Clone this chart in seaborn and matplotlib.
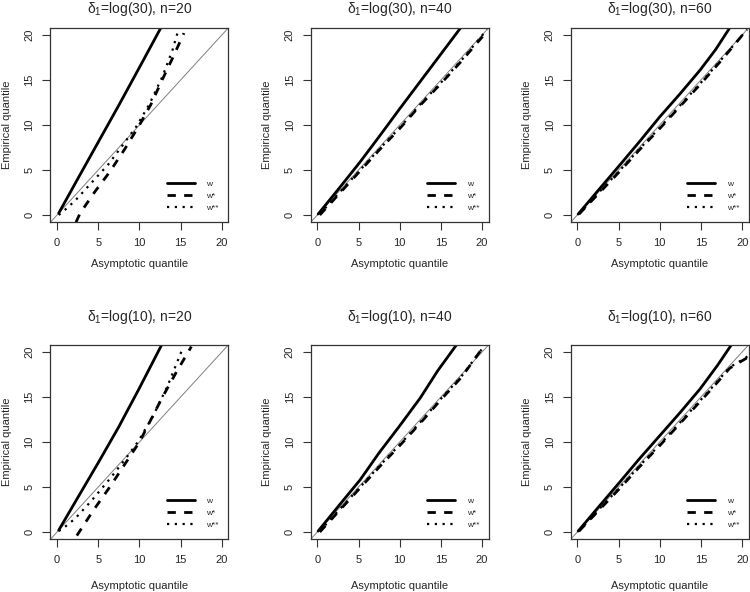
import numpy as np
import pandas as pd
import matplotlib
matplotlib.use('Agg')
import matplotlib.pyplot as plt
import seaborn as sns

# panel titles (delta_1, n)
deltas = ['30', '30', '30', '10', '10', '10']
ns = [20, 40, 60, 20, 40, 60]

# --- delta1=log(30), n=20
w_30_20_x = [0.2, 2.5, 5.0, 7.5, 10.0, 12.6]
w_30_20_y = [0.2, 4.0, 8.1, 12.2, 16.4, 20.8]
ws_30_20_x = [2.3, 2.8, 4.6, 6.4, 8.2, 10.0, 11.4, 12.7, 14.0, 15.4]
ws_30_20_y = [-0.8, 0.2, 2.6, 4.8, 7.3, 10.0, 12.3, 14.9, 17.4, 20.2]
wss_30_20_x = [0.2, 1.0, 2.2, 4.0, 6.2, 8.0, 9.6, 11.2, 12.8, 14.0, 14.8]
wss_30_20_y = [0.0, 0.6, 1.6, 3.4, 5.6, 7.8, 9.8, 12.3, 15.4, 18.3, 20.8]

# --- delta1=log(30), n=40
w_30_40_x = [0.1, 2.5, 5.2, 7.5, 10.0, 13.7, 17.4]
w_30_40_y = [0.1, 2.8, 5.9, 8.7, 11.8, 16.3, 20.8]
ws_30_40_x = [0.3, 2.5, 5.0, 7.5, 10.0, 12.5, 15.0, 17.5, 20.5]
ws_30_40_y = [0.0, 2.2, 4.7, 7.2, 9.6, 12.2, 14.6, 17.1, 20.3]
wss_30_40_x = [0.3, 2.5, 5.0, 7.5, 10.0, 12.5, 15.0, 17.5, 20.6]
wss_30_40_y = [0.1, 2.3, 4.8, 7.3, 9.7, 12.3, 14.7, 17.2, 20.6]

# --- delta1=log(30), n=60
w_30_60_x = [0.1, 2.5, 5.2, 7.5, 10.0, 12.5, 14.9, 16.8, 18.5]
w_30_60_y = [0.1, 2.7, 5.6, 8.1, 10.9, 13.5, 16.1, 18.4, 20.8]
ws_30_60_x = [0.2, 2.5, 5.0, 7.5, 10.0, 12.5, 15.0, 17.5, 20.5]
ws_30_60_y = [0.1, 2.3, 4.7, 7.2, 9.6, 12.1, 14.6, 17.2, 20.5]
wss_30_60_x = [0.2, 2.5, 5.0, 7.5, 10.0, 12.5, 15.0, 17.5, 20.6]
wss_30_60_y = [0.1, 2.4, 4.8, 7.3, 9.7, 12.2, 14.7, 17.3, 20.6]

# --- delta1=log(10), n=20
w_10_20_x = [0.2, 2.5, 5.0, 7.5, 10.0, 12.7]
w_10_20_y = [0.2, 3.8, 7.7, 11.7, 16.0, 20.8]
ws_10_20_x = [2.4, 4.4, 6.4, 8.2, 10.0, 11.4, 12.8, 14.5, 16.3]
ws_10_20_y = [-0.4, 2.4, 5.0, 7.5, 10.0, 12.5, 15.0, 17.8, 20.6]
wss_10_20_x = [0.2, 1.0, 2.2, 4.2, 6.4, 8.2, 9.8, 11.6, 13.4, 15.2]
wss_10_20_y = [0.1, 0.6, 1.5, 3.5, 5.9, 8.0, 10.0, 12.8, 16.2, 20.3]

# --- delta1=log(10), n=40
w_10_40_x = [0.1, 2.5, 5.2, 7.5, 10.0, 12.5, 14.6, 16.9]
w_10_40_y = [0.1, 2.8, 5.8, 8.8, 11.8, 14.9, 17.9, 20.8]
ws_10_40_x = [0.3, 2.5, 5.0, 7.5, 10.0, 12.5, 15.0, 17.5, 20.1]
ws_10_40_y = [0.0, 2.2, 4.7, 7.2, 9.6, 12.1, 14.7, 17.2, 20.5]
wss_10_40_x = [0.3, 2.5, 5.0, 7.5, 10.0, 12.5, 15.0, 17.5, 20.2]
wss_10_40_y = [0.1, 2.3, 4.8, 7.3, 9.7, 12.2, 14.8, 17.3, 20.6]

# --- delta1=log(10), n=60
w_10_60_x = [0.1, 2.5, 5.2, 7.5, 10.0, 12.5, 14.9, 17.0, 18.7]
w_10_60_y = [0.1, 2.7, 5.6, 8.1, 10.7, 13.3, 15.9, 18.5, 20.8]
ws_10_60_x = [0.2, 2.5, 5.0, 7.5, 10.0, 12.5, 16.1, 18.5, 20.5, 20.8]
ws_10_60_y = [0.1, 2.3, 4.7, 7.2, 9.6, 12.1, 15.7, 18.2, 19.3, 19.6]
wss_10_60_x = [0.2, 2.5, 5.0, 7.5, 10.0, 12.5, 16.1, 18.5, 20.5, 20.8]
wss_10_60_y = [0.1, 2.4, 4.8, 7.3, 9.7, 12.2, 15.8, 18.3, 19.4, 19.7]

panels = [
    (w_30_20_x, w_30_20_y, ws_30_20_x, ws_30_20_y, wss_30_20_x, wss_30_20_y),
    (w_30_40_x, w_30_40_y, ws_30_40_x, ws_30_40_y, wss_30_40_x, wss_30_40_y),
    (w_30_60_x, w_30_60_y, ws_30_60_x, ws_30_60_y, wss_30_60_x, wss_30_60_y),
    (w_10_20_x, w_10_20_y, ws_10_20_x, ws_10_20_y, wss_10_20_x, wss_10_20_y),
    (w_10_40_x, w_10_40_y, ws_10_40_x, ws_10_40_y, wss_10_40_x, wss_10_40_y),
    (w_10_60_x, w_10_60_y, ws_10_60_x, ws_10_60_y, wss_10_60_x, wss_10_60_y),
]
ticks = [0, 5, 10, 15, 20]

sns.set_style('ticks')
plt.rcParams['font.family'] = ['Liberation Sans', 'DejaVu Sans']
plt.rcParams['mathtext.fontset'] = 'custom'
plt.rcParams['mathtext.rm'] = 'Liberation Sans'
plt.rcParams['mathtext.it'] = 'Liberation Sans:italic'

fig = plt.figure(figsize=(7.5, 5.92), dpi=100)
lefts = [0.0673, 0.4143, 0.761]
bottoms = [0.6247, 0.0892]
W, H = 0.2373, 0.3284

styles = [('w', '-', 2.0), ('w*', (0, (3, 3)), 2.0), ('w**', (0, (1, 2.5)), 1.6)]

for i, data in enumerate(panels):
    row, col = divmod(i, 3)
    ax = fig.add_axes([lefts[col], bottoms[row], W, H])
    ax.axline((0, 0), slope=1, color='#808080', lw=0.7)
    for k, (lab, ls, lw) in enumerate(styles):
        sns.lineplot(x=data[2 * k], y=data[2 * k + 1], ax=ax, color='black',
                     lw=lw, linestyle=ls, sort=False, estimator=None, label=lab)
    ax.set_xlim(-0.8, 20.8)
    ax.set_ylim(-0.8, 20.8)
    ax.set_xticks(ticks)
    ax.set_yticks(ticks)
    ax.tick_params(labelsize=8, length=5.5, width=0.8, color='#333333', pad=6)
    for lbl in ax.get_yticklabels():
        lbl.set_rotation(90)
        lbl.set_va('center')
    for s in ax.spines.values():
        s.set_linewidth(0.9)
        s.set_color('#333333')
    ax.set_xlabel('Asymptotic quantile', fontsize=8)
    ax.set_ylabel('Empirical quantile', fontsize=8, va='center')
    ax.yaxis.set_label_coords(-0.245, 0.5)
    ax.xaxis.set_label_coords(0.5, -0.188 if row == 0 else -0.216)
    ax.text(0.5, 1.097 if row == 0 else 1.145,
            r'$\mathrm{\delta_1}$' + f'=log({deltas[i]}), n={ns[i]}',
            transform=ax.transAxes, ha='center', va='center', fontsize=10)
    ax.legend(loc='lower right', bbox_to_anchor=(0.965, 0.035), frameon=False,
              fontsize=6, handlelength=3.3, handletextpad=1.4,
              labelspacing=0.5, borderaxespad=0)

fig.savefig('out.png', dpi=100)
